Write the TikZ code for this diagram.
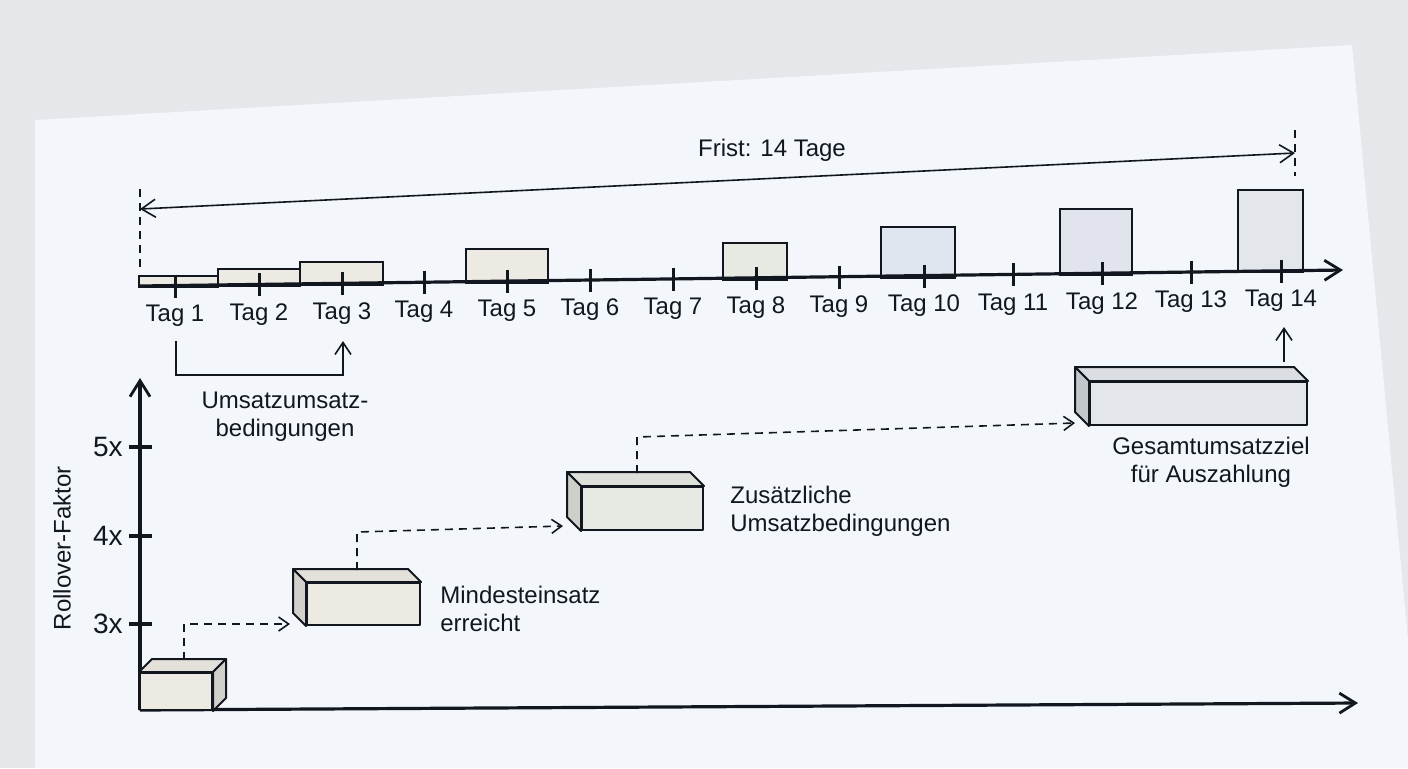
\documentclass[tikz,border=0pt]{standalone}
\usepackage{fontspec}
\setmainfont{Liberation Sans}
\usetikzlibrary{arrows.meta,calc}
\definecolor{ink}{HTML}{12161F}
\definecolor{outerbg}{HTML}{E5E7EB}
\definecolor{paperbg}{HTML}{F3F6FB}
\definecolor{beigeA}{HTML}{ECEAE3}
\definecolor{greenA}{HTML}{E6EAE2}
\definecolor{blueA}{HTML}{E0E6EF}
\definecolor{blueB}{HTML}{E1E4EC}
\definecolor{greyA}{HTML}{E3E6EB}
\tikzset{
  bar/.style={draw=ink, line width=0.9pt},
  axis/.style={draw=ink, line width=1.6pt, -{Straight Barb[length=8pt,width=10pt,line width=1.4pt]}},
  tick/.style={draw=ink, line width=1.5pt},
  daylabel/.style={font=\fontsize{12}{14}\selectfont},
  thinarrow/.style={draw=ink, line width=0.8pt},
  dashcon/.style={draw=ink, line width=0.8pt, dash pattern=on 4pt off 3pt, -{Straight Barb[length=5pt,width=7pt,line width=0.8pt]}},
  boxfront/.style={draw=ink, line width=1pt, inner sep=0pt, line join=round},
  face/.style={draw=ink, line width=1pt, line join=round},
  note/.style={font=\fontsize{12}{14}\selectfont, align=left, inner sep=0pt},
  ylab/.style={font=\fontsize{14}{16}\selectfont, anchor=east, inner sep=0pt}
}
\begin{document}
\begin{tikzpicture}[x=0.5pt,y=-0.5pt, text=ink]
\useasboundingbox (0,0) rectangle (1408,768);
\fill[outerbg] (0,0) rectangle (1408,768);
\fill[paperbg] (35,120) -- (1352,45) -- (1408,640) -- (1408,768) -- (35,768) -- cycle;

% ---------- Frist arrow ----------
\coordinate (fl) at (140,209);
\coordinate (fr) at (1295,153);
\draw[ink, line width=0.8pt, dash pattern=on 4pt off 3pt] (140,189) -- (140,268);
\draw[ink, line width=0.8pt, dash pattern=on 4pt off 3pt] (1295,130) -- (1295,176);
\draw[thinarrow, {Straight Barb[length=7pt,width=9pt,line width=0.8pt]}-{Straight Barb[length=7pt,width=9pt,line width=0.8pt]}] (fl) -- (fr);
\node[daylabel] (frist) at (772,150) {Frist: 14 Tage};

% ---------- bars ----------
\draw[bar, fill=beigeA] (139,287) rectangle (218,276);
\draw[bar, fill=beigeA] (218,286) rectangle (300,269);
\draw[bar, fill=beigeA] (300,285) rectangle (383,262);
\draw[bar, fill=beigeA] (466,283) rectangle (548,249);
\draw[bar, fill=greenA] (723,280) rectangle (787,243);
\draw[bar, fill=blueA] (881,278) rectangle (955,227);
\draw[bar, fill=blueB] (1060,275) rectangle (1132,209);
\draw[bar, fill=greyA] (1238,272) rectangle (1303,190);

% ---------- timeline axis ----------
\coordinate (ta0) at (140,286);
\coordinate (ta1) at (1343,270);
\draw[axis] (ta0) -- (ta1);
\foreach \n/\x/\y in {1/175/285.5,2/259/284.4,3/342/283.3,4/424/282.2,5/507/281.1,6/590/280.0,7/673/278.9,8/756/277.8,9/839/276.7,10/924/275.6,11/1013/274.4,12/1102/273.2,13/1191/272.0,14/1281/270.8}{
  \draw[tick] (\x,\y-11) -- (\x,\y+12);
  \node[daylabel] (tag\n) at (\x,\y+30) {Tag \n};
}

% ---------- bracket ----------
\coordinate (br0) at (176,341);
\coordinate (br1) at (176,375);
\coordinate (br2) at (343,375);
\coordinate (br3) at (343,341);
\draw[thinarrow, -{Straight Barb[length=6pt,width=8pt,line width=0.8pt]}] (br0) -- (br1) -- (br2) -- (br3);
\node[daylabel, align=center] (umsatz) at (285,417) {Umsatzumsatz-\\bedingungen};

% ---------- lower axes ----------
\coordinate (o) at (140,710);
\coordinate (ytop) at (140,378);
\coordinate (xend) at (1358,703);
\draw[axis] (o) -- (ytop);
\draw[axis] (o) -- (xend);
\foreach \v/\yy in {5/447,4/536,3/624}{
  \draw[tick, line width=1.6pt] (129,\yy) -- (152,\yy);
  \node[ylab] (y\v) at (123,\yy) {\v x};
}
\node[font=\fontsize{12}{14}\selectfont, rotate=90] (ylabel) at (62,548) {Rollover-Faktor};

% ---------- box 1 (depth to the right) ----------
\node[boxfront, fill=beigeA, minimum width=36pt, minimum height=18.5pt] (b1) at (176,691.5) {};
\fill[face, fill=beigeA!96!black] (b1.north west) -- ($(b1.north west)+(13,-13)$) -- ($(b1.north east)+(13,-13)$) -- (b1.north east) -- cycle;
\fill[face, fill=beigeA!89!black] (b1.north east) -- ($(b1.north east)+(13,-13)$) -- ($(b1.south east)+(13,-13)$) -- (b1.south east) -- cycle;

% ---------- box 2 ----------
\node[boxfront, fill=beigeA, minimum width=56.5pt, minimum height=21pt] (b2) at (363.5,604) {};
\fill[face, fill=beigeA!96!black] (b2.north west) -- ($(b2.north west)+(-13,-13)$) -- ($(b2.north east)+(-13,-13)$) -- (b2.north east) -- cycle;
\fill[face, fill=beigeA!89!black] (b2.north west) -- ($(b2.north west)+(-13,-13)$) -- ($(b2.south west)+(-13,-13)$) -- (b2.south west) -- cycle;
\node[note, anchor=west] (l2) at (440,609) {Mindesteinsatz\\erreicht};

% ---------- box 3 ----------
\node[boxfront, fill=greenA, minimum width=60.5pt, minimum height=21.5pt] (b3) at (642.5,508.5) {};
\fill[face, fill=greenA!96!black] (b3.north west) -- ($(b3.north west)+(-14,-14)$) -- ($(b3.north east)+(-14,-14)$) -- (b3.north east) -- cycle;
\fill[face, fill=greenA!89!black] (b3.north west) -- ($(b3.north west)+(-14,-14)$) -- ($(b3.south west)+(-14,-14)$) -- (b3.south west) -- cycle;
\node[note, anchor=west] (l3) at (730,511) {Zusätzliche\\Umsatzbedingungen};

% ---------- box 4 ----------
\node[boxfront, fill=greyA, minimum width=108.5pt, minimum height=21.5pt] (b4) at (1198.5,403.5) {};
\fill[face, fill=greyA!96!black] (b4.north west) -- ($(b4.north west)+(-14,-14)$) -- ($(b4.north east)+(-14,-14)$) -- (b4.north east) -- cycle;
\fill[face, fill=greyA!86!black] (b4.north west) -- ($(b4.north west)+(-14,-14)$) -- ($(b4.south west)+(-14,-14)$) -- (b4.south west) -- cycle;
\node[note, align=center] (l4) at (1211,462) {Gesamtumsatzziel\\für Auszahlung};

% ---------- dashed connectors ----------
\coordinate (d1) at (184,660);
\coordinate (d1t) at (290,624);
\draw[dashcon] (d1) |- (d1t);
\coordinate (d2) at (357,570);
\coordinate (d2m) at (357,532);
\coordinate (d2t) at (563,526);
\draw[dashcon] (d2) -- (d2m) -- (d2t);
\coordinate (d3) at (637,473);
\coordinate (d3m) at (637,437);
\coordinate (d3t) at (1075,423);
\draw[dashcon] (d3) -- (d3m) -- (d3t);
\coordinate (d4) at (1284,362);
\coordinate (d4t) at (1284,327);
\draw[thinarrow, -{Straight Barb[length=6pt,width=8pt,line width=0.8pt]}] (d4) -- (d4t);
\end{tikzpicture}
\end{document}
